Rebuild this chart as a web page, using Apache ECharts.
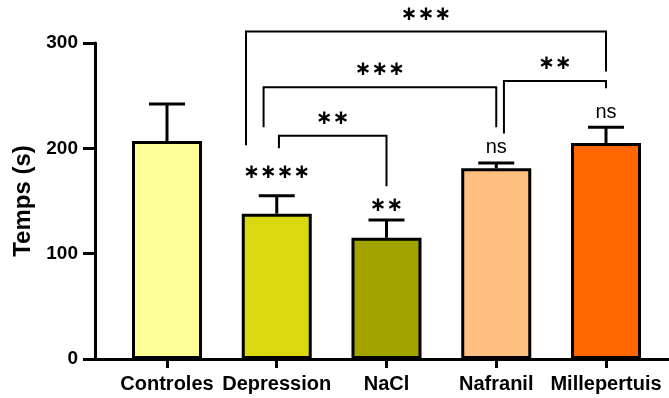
<!DOCTYPE html>
<html>
<head>
<meta charset="utf-8">
<script src="https://cdn.jsdelivr.net/npm/echarts@6/dist/echarts.min.js"></script>
<style>html,body{margin:0;padding:0;background:#fff}#c{width:669px;height:398px}</style>
</head>
<body>
<div id="c"></div>
<script>
const categories = ['Controles', 'Depression', 'NaCl', 'Nafranil', 'Millepertuis'];
const means = [207, 138, 115, 181, 205];
const upperErr = [242, 155, 132, 186, 220];
const yTicks = [0, 100, 200, 300];
const barNotes = ['', '****', '**', 'ns', 'ns'];
const barNoteY = [null, 177, 145, 201, 234];
// significance brackets (x in category units, y in data units)
const bracketFrom = [0.72, 0.88, 1.02, 3.07];
const bracketTo = [4, 3, 2, 4];
const bracketLevel = [311, 258, 212, 264];
const bracketLeftEnd = [203, 220, 200, 214];
const bracketRightEnd = [273, 220, 164, 257];
const bracketLabels = ['***', '***', '**', '**'];

const barColors = ['#FFFF99', '#DAD80E', '#A3A300', '#FFC080', '#FF6600'];
const FONT = '"Liberation Sans", Arial, sans-serif';
const STAR_FONT = 'bold 20px "DejaVu Sans", sans-serif';

function starText(t) { return t.replace(/\*/g, '\u2217'); }

const chart = echarts.init(document.getElementById('c'), null, {renderer: 'canvas'});
const idx = categories.map((_, i) => i);

chart.setOption({
  animation: false,
  grid: {left: 95, right: 0, top: 43, bottom: 39, containLabel: false},
  xAxis: {
    type: 'value', min: -0.656, max: 4.574,
    splitLine: {show: false},
    axisLine: {show: true, onZero: false, lineStyle: {color: '#000', width: 3}},
    axisTick: {show: true, customValues: idx, length: 9, lineStyle: {color: '#000', width: 3}},
    axisLabel: {customValues: idx, formatter: v => categories[Math.round(v)], color: '#000',
      fontFamily: FONT, fontWeight: 'bold', fontSize: 20, margin: 15}
  },
  yAxis: {
    type: 'value', min: yTicks[0], max: yTicks[yTicks.length - 1], interval: 100,
    splitLine: {show: false},
    axisLine: {show: true, onZero: false, lineStyle: {color: '#000', width: 3}},
    axisTick: {show: true, length: 12, lineStyle: {color: '#000', width: 3}},
    axisLabel: {color: '#000', fontFamily: FONT, fontWeight: 'bold', fontSize: 19, margin: 17},
    name: 'Temps (s)', nameLocation: 'middle', nameGap: 57,
    nameTextStyle: {color: '#000', fontFamily: FONT, fontWeight: 'bold', fontSize: 24}
  },
  series: [
    {
      type: 'bar', barWidth: 70,
      data: means.map((m, i) => ({value: [i, m], itemStyle: {color: barColors[i]}})),
      itemStyle: {borderColor: '#000', borderWidth: 3}
    },
    {
      type: 'custom', z: 5,
      data: means.map((m, i) => [i, m, upperErr[i]]),
      renderItem: (params, api) => {
        const x = api.value(0);
        const p0 = api.coord([x, api.value(1)]);
        const p1 = api.coord([x, api.value(2)]);
        return {type: 'group', children: [
          {type: 'line', shape: {x1: p0[0], y1: p0[1], x2: p1[0], y2: p1[1]}, style: {stroke: '#000', lineWidth: 3}},
          {type: 'line', shape: {x1: p1[0] - 18, y1: p1[1], x2: p1[0] + 18, y2: p1[1]}, style: {stroke: '#000', lineWidth: 3}}
        ]};
      }
    },
    {
      type: 'custom', z: 6, clip: false,
      data: bracketFrom.map((f, i) => [f, bracketTo[i], bracketLevel[i], bracketLeftEnd[i], bracketRightEnd[i]]),
      renderItem: (params, api) => {
        const f = api.value(0), t = api.value(1), lv = api.value(2);
        const a = api.coord([f, api.value(3)]);
        const b = api.coord([f, lv]);
        const c = api.coord([t, lv]);
        const d = api.coord([t, api.value(4)]);
        return {type: 'group', children: [
          {type: 'polyline', shape: {points: [a, b, c, d]}, style: {stroke: '#000', lineWidth: 2, fill: null}},
          {type: 'text', style: {text: starText(bracketLabels[params.dataIndex]), x: (b[0] + c[0]) / 2, y: b[1] - 17,
            align: 'center', verticalAlign: 'middle', font: STAR_FONT, fill: '#000'}}
        ]};
      }
    },
    {
      type: 'custom', z: 6, clip: false,
      data: means.map((m, i) => [i, barNoteY[i] == null ? 0 : barNoteY[i]]),
      renderItem: (params, api) => {
        const note = barNotes[params.dataIndex];
        if (!note) return null;
        const p = api.coord([api.value(0), api.value(1)]);
        const isNs = note === 'ns';
        return {type: 'text', style: {text: isNs ? note : starText(note), x: p[0], y: p[1],
          align: 'center', verticalAlign: 'middle',
          font: isNs ? '20px "Liberation Sans", Arial, sans-serif' : STAR_FONT, fill: '#000'}};
      }
    }
  ]
});
</script>
</body>
</html>
